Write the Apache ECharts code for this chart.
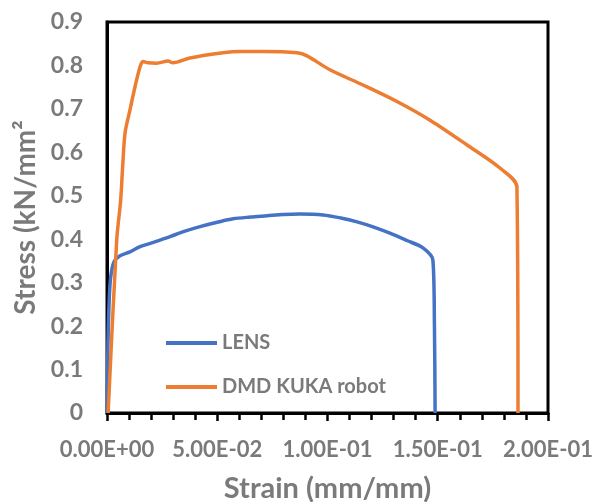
<!DOCTYPE html>
<html>
<head>
<meta charset="utf-8">
<script src="https://cdn.jsdelivr.net/npm/echarts@6/dist/echarts.min.js"></script>
<style>html,body{margin:0;padding:0;background:#fff}#c{width:594px;height:502px}</style>
</head>
<body>
<div id="c"></div>
<script>
var seriesNames = ['LENS', 'DMD KUKA robot'];
var lensStrain = [0, 0.0004, 0.001, 0.0017, 0.0032, 0.0059, 0.0104, 0.015, 0.020, 0.024, 0.0286, 0.035, 0.0422, 0.050, 0.0572, 0.065, 0.0726, 0.080, 0.0875, 0.098, 0.106, 0.1134, 0.121, 0.1283, 0.136, 0.1433, 0.1478, 0.1485, 0.1488];
var lensStress = [0, 0.15, 0.26, 0.314, 0.348, 0.362, 0.371, 0.383, 0.391, 0.398, 0.406, 0.418, 0.429, 0.439, 0.447, 0.451, 0.454, 0.457, 0.458, 0.456, 0.449, 0.440, 0.428, 0.414, 0.397, 0.380, 0.352, 0.2, 0];
var dmdStrain = [0.0005, 0.0044, 0.0062, 0.0071, 0.0082, 0.0104, 0.0127, 0.015, 0.0163, 0.0186, 0.0225, 0.0277, 0.0299, 0.0376, 0.0526, 0.0603, 0.0707, 0.0862, 0.0907, 0.1011, 0.1161, 0.1315, 0.1465, 0.1633, 0.1782, 0.1859, 0.1864];
var dmdStress = [0, 0.398, 0.49, 0.567, 0.645, 0.697, 0.751, 0.797, 0.809, 0.806, 0.805, 0.810, 0.806, 0.817, 0.829, 0.832, 0.832, 0.829, 0.822, 0.790, 0.755, 0.717, 0.674, 0.617, 0.564, 0.520, 0];
var xTickLabels = ['0.00E+00', '5.00E-02', '1.00E-01', '1.50E-01', '2.00E-01'];
var yTickLabels = ['0', '0.1', '0.2', '0.3', '0.4', '0.5', '0.6', '0.7', '0.8', '0.9'];
var xName = 'Strain (mm/mm)';
var yName = 'Stress (kN/mm\u00B2';

function pairs(xs, ys) { return xs.map(function (x, i) { return [x, ys[i]]; }); }

var gray = '#7A7A7A';
var font = 'Lato';
var chart = echarts.init(document.getElementById('c'), null, { renderer: 'canvas' });
chart.setOption({
  animation: false,
  backgroundColor: '#fff',
  grid: { left: 107, right: 46, top: 22, bottom: 89, show: true, borderColor: '#000', borderWidth: 3, backgroundColor: 'transparent', containLabel: false, outerBoundsMode: 'none' },
  legend: {
    orient: 'vertical', left: 161, top: 328, itemWidth: 51, itemHeight: 4, itemGap: 24,
    icon: 'rect',
    data: seriesNames,
    textStyle: { color: gray, fontFamily: font, fontWeight: 'bold', fontSize: 20, padding: [0, 0, 0, 0] }
  },
  xAxis: {
    type: 'value', min: 0, max: 0.2, interval: 0.05,
    name: xName, nameLocation: 'middle', nameGap: 61,
    nameTextStyle: { color: gray, fontFamily: font, fontWeight: 'bold', fontSize: 29 },
    axisLine: { show: true, lineStyle: { color: '#000', width: 3 } },
    axisTick: { show: true, length: 8, lineStyle: { color: '#000', width: 2.5 } },
    minorTick: { show: true, splitNumber: 5, length: 7, lineStyle: { color: '#000', width: 2.5 } },
    splitLine: { show: false },
    axisLabel: {
      margin: 26, color: gray, fontFamily: font, fontWeight: 'bold', fontSize: 22,
      formatter: function (v) { return xTickLabels[Math.round(v / 0.05)]; }
    }
  },
  yAxis: {
    type: 'value', min: 0, max: 0.9, interval: 0.1,
    name: yName, nameLocation: 'middle', nameGap: 66,
    nameTextStyle: { color: gray, fontFamily: font, fontWeight: 'bold', fontSize: 28 },
    axisLine: { show: true, lineStyle: { color: '#000', width: 3 } },
    axisTick: { show: false },
    splitLine: { show: false },
    axisLabel: {
      margin: 24, color: gray, fontFamily: font, fontWeight: 'bold', fontSize: 23,
      formatter: function (v) { return yTickLabels[Math.round(v / 0.1)]; }
    }
  },
  series: [
    { name: seriesNames[0], type: 'line', data: pairs(lensStrain, lensStress), symbol: 'none', smooth: 0.3,
      lineStyle: { color: '#4472C4', width: 3.5 }, itemStyle: { color: '#4472C4' } },
    { name: seriesNames[1], type: 'line', data: pairs(dmdStrain, dmdStress), symbol: 'none', smooth: 0.3,
      lineStyle: { color: '#ED7D31', width: 3.5 }, itemStyle: { color: '#ED7D31' } }
  ]
});
</script>
</body>
</html>
